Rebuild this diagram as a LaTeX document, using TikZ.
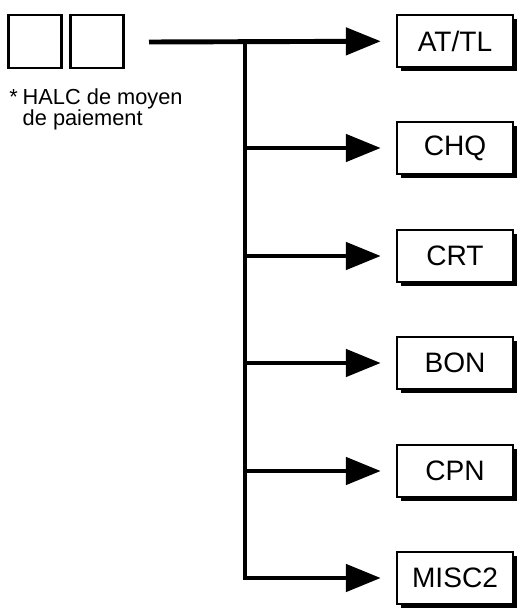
\documentclass[tikz,border=0pt]{standalone}
\usepackage{fontspec}
\setmainfont{Liberation Sans}
\usetikzlibrary{arrows.meta,shadows}

\begin{document}
\begin{tikzpicture}[x=0.02cm, y=-0.02cm,
	champ/.style={draw, line width=1.5pt, minimum width=1.06cm, minimum height=1.06cm},
	code/.style={draw, line width=1.4pt, fill=white, minimum width=2.32cm, minimum height=1.04cm,
		font=\fontsize{16}{19}\selectfont,
		drop shadow={shadow xshift=0.08cm, shadow yshift=-0.08cm, fill=black, opacity=1}},
	fleche/.style={line width=2.8pt, line join=miter, -{Triangle[length=0.7cm, width=0.54cm]}, shorten >=0.3cm}]
	\useasboundingbox (0, 0) rectangle (526, 612);
	\node[champ] (c1) at (35, 41.5) {};
	\node[champ] (c2) at (97, 41.5) {};
	\node[anchor=north west, inner sep=0, align=left, font=\fontsize{12.4}{11.9}\selectfont] (note) at (9, 88)
		{*\kern2.8pt HALC de moyen\\\phantom{*}\kern2.8pt de paiement};

	\node[code] (attl) at (455, 41) {AT/TL};
	\node[code] (chq) at (455, 148) {CHQ};
	\node[code] (crt) at (455, 256) {CRT};
	\node[code] (bon) at (455, 363) {BON};
	\node[code] (cpn) at (455, 471) {CPN};
	\node[code] (misc2) at (455, 578) {MISC2};

	\coordinate (depart) at (149, 42);
	\coordinate (haut) at (245, 42);
	\draw[fleche] (depart) -- (attl);
	\draw[fleche] (haut) |- (misc2);
	\foreach \n in {chq, crt, bon, cpn}
		\draw[fleche] (haut |- \n) -- (\n);
\end{tikzpicture}
\end{document}
